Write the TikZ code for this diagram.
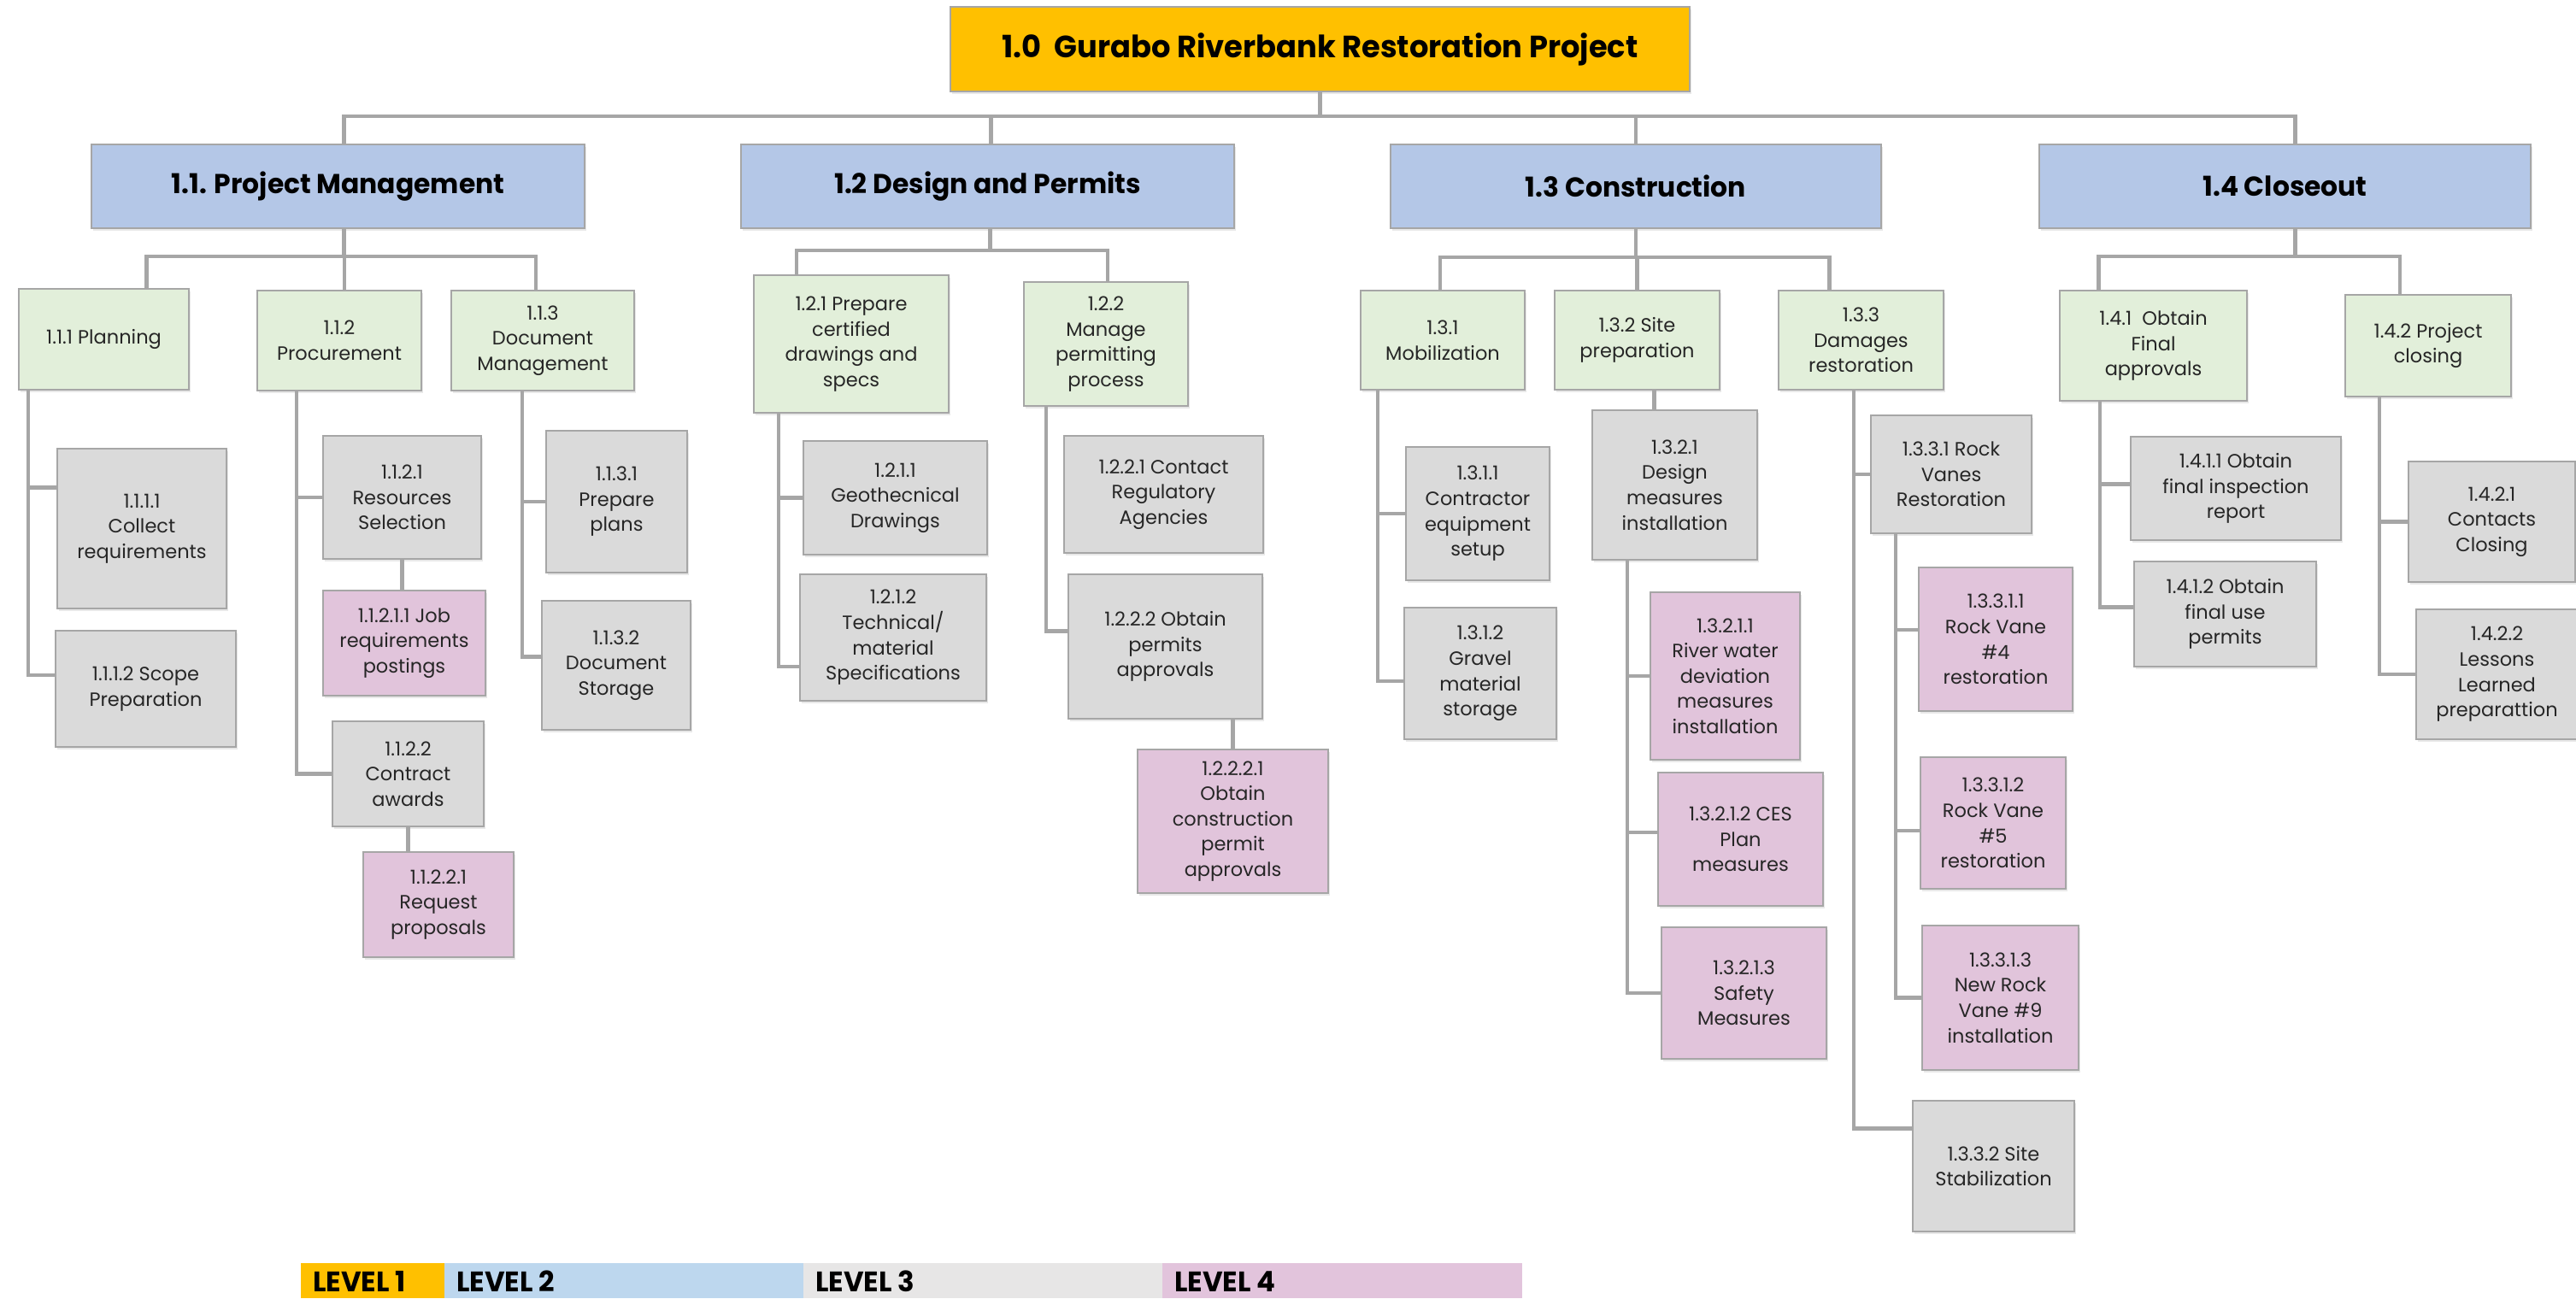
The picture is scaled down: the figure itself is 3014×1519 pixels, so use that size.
\documentclass[tikz,border=0pt]{standalone}
\usepackage{fontspec}
\setmainfont{Poppins}
\newfontfamily\bodyf[FakeStretch=1.0]{Poppins}
\newfontfamily\headf[FakeStretch=0.98]{Poppins}
\newfontfamily\legf[FakeStretch=0.98]{Poppins}
\usetikzlibrary{calc,shadows}
\definecolor{brd}{HTML}{A6A6A6}
\definecolor{lvone}{HTML}{FFC000}
\definecolor{lvtwo}{HTML}{B4C7E7}
\definecolor{grn}{HTML}{E2EFDA}
\definecolor{gry}{HTML}{DADADA}
\definecolor{pnk}{HTML}{E1C4DB}
\definecolor{legtwo}{HTML}{BDD7EE}
\definecolor{legthree}{HTML}{E7E6E6}
\definecolor{legfour}{HTML}{E2C4DC}
\definecolor{txt}{HTML}{262626}
\newcommand\bx[7]{\node[#6, minimum width={#4-#2}, minimum height={#5-#3}] (#1) at ({(#2+#4)/2},{(#3+#5)/2}) {#7};}
\begin{document}
\begin{tikzpicture}[x=1pt,y=-1pt,
  box/.style={draw=brd, line width=2.5pt, inner sep=0pt, outer sep=0pt, align=center,
    text=txt, font=\bodyf\fontsize{22.5}{29.6}\selectfont,
    drop shadow={opacity=0.18, shadow xshift=2pt, shadow yshift=-3pt}},
  topbox/.style={box, fill=lvone, text=black, font=\headf\bfseries\fontsize{36}{40}\selectfont},
  lvbox/.style={box, fill=lvtwo, text=black, font=\headf\bfseries\fontsize{32}{36}\selectfont},
  gbox/.style={box, fill=grn},
  ybox/.style={box, fill=gry},
  pbox/.style={box, fill=pnk},
  conn/.style={draw=brd, line width=4.5pt, line join=miter},
  legbox/.style={inner sep=0pt, outer sep=0pt},
  legtext/.style={inner sep=0pt, anchor=base west, font=\legf\bfseries\fontsize{33}{36}\selectfont}
]
\useasboundingbox (0,0) rectangle (3014,1519);
\fill[white] (0,0) rectangle (3014,1519);

% Level 1
\bx{t}{1112}{8}{1977}{107}{topbox}{1.0\ \ Gurabo Riverbank Restoration Project}
% Level 2
\bx{b11}{107}{169}{684}{267}{lvbox}{1.1. Project Management}
\bx{b12}{867}{169}{1444}{267}{lvbox}{1.2 Design and Permits}
\bx{b13}{1627}{169}{2201}{267}{lvbox}{1.3 Construction}
\bx{b14}{2386}{169}{2961}{267}{lvbox}{1.4 Closeout}

% 1.1 branch
\bx{b111}{22}{338}{221}{456}{gbox}{1.1.1 Planning}
\bx{b112}{301}{340}{493}{457}{gbox}{1.1.2\\Procurement}
\bx{b113}{528}{340}{742}{457}{gbox}{1.1.3\\Document\\Management}
\bx{b1111}{67}{525}{265}{712}{ybox}{1.1.1.1\\Collect\\requirements}
\bx{b1112}{65}{738}{276}{874}{ybox}{1.1.1.2 Scope\\Preparation}
\bx{b1121}{378}{510}{563}{654}{ybox}{1.1.2.1\\Resources\\Selection}
\bx{b11211}{378}{691}{568}{814}{pbox}{1.1.2.1.1 Job\\requirements\\postings}
\bx{b1122}{389}{844}{566}{967}{ybox}{1.1.2.2\\Contract\\awards}
\bx{b11221}{425}{997}{601}{1120}{pbox}{1.1.2.2.1\\Request\\proposals}
\bx{b1131}{639}{504}{804}{670}{ybox}{1.1.3.1\\Prepare\\plans}
\bx{b1132}{634}{703}{808}{854}{ybox}{1.1.3.2\\Document\\Storage}

% 1.2 branch
\bx{b121}{882}{322}{1110}{483}{gbox}{1.2.1 Prepare\\certified\\drawings and\\specs}
\bx{b122}{1198}{330}{1390}{475}{gbox}{1.2.2\\Manage\\permitting\\process}
\bx{b1211}{940}{516}{1155}{649}{ybox}{1.2.1.1\\Geothecnical\\Drawings}
\bx{b1212}{936}{672}{1154}{820}{ybox}{1.2.1.2\\Technical/\\material\\Specifications}
\bx{b1221}{1245}{510}{1478}{647}{ybox}{1.2.2.1 Contact\\Regulatory\\Agencies}
\bx{b1222}{1250}{672}{1477}{841}{ybox}{1.2.2.2 Obtain\\permits\\approvals}
\bx{b12221}{1331}{877}{1554}{1045}{pbox}{1.2.2.2.1\\Obtain\\construction\\permit\\approvals}

% 1.3 branch
\bx{b131}{1592}{340}{1784}{456}{gbox}{1.3.1\\Mobilization}
\bx{b132}{1819}{340}{2012}{456}{gbox}{1.3.2 Site\\preparation}
\bx{b133}{2081}{340}{2274}{456}{gbox}{1.3.3\\Damages\\restoration}
\bx{b1311}{1645}{523}{1813}{679}{ybox}{1.3.1.1\\Contractor\\equipment\\setup}
\bx{b1312}{1643}{711}{1821}{865}{ybox}{1.3.1.2\\Gravel\\material\\storage}
\bx{b1321}{1863}{480}{2056}{655}{ybox}{1.3.2.1\\Design\\measures\\installation}
\bx{b13211}{1931}{693}{2106}{889}{pbox}{1.3.2.1.1\\River water\\deviation\\measures\\installation}
\bx{b13212}{1940}{904}{2133}{1060}{pbox}{1.3.2.1.2 CES\\Plan\\measures}
\bx{b13213}{1944}{1085}{2137}{1239}{pbox}{1.3.2.1.3\\Safety\\Measures}
\bx{b1331}{2189}{486}{2377}{624}{ybox}{1.3.3.1 Rock\\Vanes\\Restoration}
\bx{b13311}{2245}{664}{2425}{832}{pbox}{1.3.3.1.1\\Rock Vane\\\#4\\restoration}
\bx{b13312}{2247}{886}{2417}{1040}{pbox}{1.3.3.1.2\\Rock Vane\\\#5\\restoration}
\bx{b13313}{2249}{1083}{2432}{1252}{pbox}{1.3.3.1.3\\New Rock\\Vane \#9\\installation}
\bx{b1332}{2238}{1288}{2427}{1441}{ybox}{1.3.3.2 Site\\Stabilization}

% 1.4 branch
\bx{b141}{2410}{340}{2629}{469}{gbox}{1.4.1\ \ Obtain\\Final\\approvals}
\bx{b142}{2744}{345}{2938}{464}{gbox}{1.4.2 Project\\closing}
\bx{b1411}{2493}{511}{2739}{632}{ybox}{1.4.1.1 Obtain\\final inspection\\report}
\bx{b1412}{2497}{657}{2710}{780}{ybox}{1.4.1.2 Obtain\\final use\\permits}
\bx{b1421}{2818}{540}{3013}{681}{ybox}{1.4.2.1\\Contacts\\Closing}
\bx{b1422}{2827}{713}{3016}{865}{ybox}{1.4.2.2\\Lessons\\Learned\\preparattion}

% ---------- connectors ----------
\coordinate (bus0) at (0,136);
\coordinate (bus11) at (0,300);
\coordinate (bus12) at (0,293);
\coordinate (bus13) at (0,301);
\coordinate (bus14) at (0,300);

% top level
\coordinate (u11) at ($(b11.north)+(7,0)$);
\coordinate (u12) at ($(b12.north)+(4,0)$);
\coordinate (u13) at (b13.north);
\coordinate (u14) at ($(b14.north)+(12,0)$);
\draw[conn] (u11) -- (u11|-bus0) -- (u14|-bus0) -- (u14);
\draw[conn] (u12) -- (u12|-bus0);
\draw[conn] (u13) -- (u13|-bus0);
\draw[conn] (t.south) -- (t.south|-bus0);

% 1.1 sub bus
\coordinate (p11) at ($(b11.south)+(7,0)$);
\coordinate (d111) at ($(b111.north)+(50,0)$);
\coordinate (d112) at ($(b112.north)+(6,0)$);
\coordinate (d113) at ($(b113.north)+(-8,0)$);
\draw[conn] (d111) -- (d111|-bus11) -- (d113|-bus11) -- (d113);
\draw[conn] (d112) -- (d112|-bus11);
\draw[conn] (p11) -- (p11|-bus11);

% 1.2 sub bus
\coordinate (p12) at ($(b12.south)+(3,0)$);
\coordinate (d121) at ($(b121.north)+(-64,0)$);
\coordinate (d122) at ($(b122.north)+(2,0)$);
\draw[conn] (d121) -- (d121|-bus12) -- (d122|-bus12) -- (d122);
\draw[conn] (p12) -- (p12|-bus12);

% 1.3 sub bus
\coordinate (p13) at (b13.south);
\coordinate (d131) at ($(b131.north)+(-3,0)$);
\coordinate (d132) at (b132.north);
\coordinate (d133) at ($(b133.north)+(-37,0)$);
\draw[conn] (d131) -- (d131|-bus13) -- (d133|-bus13) -- (d133);
\draw[conn] (d132) -- (d132|-bus13);
\draw[conn] (p13) -- (p13|-bus13);

% 1.4 sub bus
\coordinate (p14) at ($(b14.south)+(12,0)$);
\coordinate (d141) at ($(b141.north)+(-64,0)$);
\coordinate (d142) at ($(b142.north)+(-33,0)$);
\draw[conn] (d141) -- (d141|-bus14) -- (d142|-bus14) -- (d142);
\draw[conn] (p14) -- (p14|-bus14);

% side verticals with ticks
\coordinate (v111) at ($(b111.south west)+(11,0)$);
\draw[conn] (v111) |- ($(b1111.west)+(0,-48)$);
\draw[conn] (v111) |- ($(b1112.west)+(0,-16)$);

\coordinate (v112) at ($(b112.south west)+(46,0)$);
\draw[conn] (v112) |- (b1121.west);
\draw[conn] (v112) |- (b1122.west);
\draw[conn] (b1121.south) -- (b1121.south|-b11211.north);
\draw[conn] (b1122.south) -- (b1122.south|-b11221.north);

\coordinate (v113) at ($(b113.south west)+(83,0)$);
\draw[conn] (v113) |- (b1131.west);
\draw[conn] (v113) |- ($(b1132.west)+(0,-10)$);

\coordinate (v121) at ($(b121.south west)+(29,0)$);
\draw[conn] (v121) |- (b1211.west);
\draw[conn] (v121) |- ($(b1212.west)+(0,34)$);

\coordinate (v122) at ($(b122.south west)+(26,0)$);
\draw[conn] (v122) |- ($(b1222.west)+(0,-18)$);
\draw[conn] (b12221.north) -- (b12221.north|-b1222.south);

\coordinate (v131) at ($(b131.south west)+(20,0)$);
\draw[conn] (v131) |- (b1311.west);
\draw[conn] (v131) |- ($(b1312.west)+(0,9)$);

\coordinate (v132) at ($(b132.south)+(20,0)$);
\draw[conn] (v132) -- (v132|-b1321.north);

\coordinate (v1321) at ($(b1321.south west)+(41,0)$);
\draw[conn] (v1321) |- (b13211.west);
\draw[conn] (v1321) |- ($(b13212.west)+(0,-8)$);
\draw[conn] (v1321) |- (b13213.west);

\coordinate (v133) at ($(b133.south west)+(88,0)$);
\draw[conn] (v133) |- (b1331.west);
\draw[conn] (v133) |- ($(b1332.west)+(0,-44)$);

\coordinate (v1331) at ($(b1331.south west)+(29,0)$);
\draw[conn] (v1331) |- ($(b13311.west)+(0,-11)$);
\draw[conn] (v1331) |- ($(b13312.west)+(0,9)$);
\draw[conn] (v1331) |- (b13313.west);

\coordinate (v141) at ($(b141.south west)+(47,0)$);
\draw[conn] (v141) |- ($(b1411.west)+(0,-5)$);
\draw[conn] (v141) |- ($(b1412.west)+(0,-8)$);

\coordinate (v142) at ($(b142.south west)+(40,0)$);
\draw[conn] (v142) |- (b1421.west);
\draw[conn] (v142) |- (b1422.west);

% ---------- legend ----------
\node[legbox, fill=lvone, minimum width=168, minimum height=41] (l1) at (436,1498.5) {};
\node[legbox, fill=legtwo, minimum width=420, minimum height=41] (l2) at (730,1498.5) {};
\node[legbox, fill=legthree, minimum width=420, minimum height=41] (l3) at (1150,1498.5) {};
\node[legbox, fill=legfour, minimum width=421, minimum height=41] (l4) at (1570.5,1498.5) {};
\node[legtext] (lt1) at ($(l1.south west)+(14,-8)$) {LEVEL 1};
\node[legtext] (lt2) at ($(l2.south west)+(14,-8)$) {LEVEL 2};
\node[legtext] (lt3) at ($(l3.south west)+(14,-8)$) {LEVEL 3};
\node[legtext] (lt4) at ($(l4.south west)+(14,-8)$) {LEVEL 4};
\end{tikzpicture}
\end{document}
